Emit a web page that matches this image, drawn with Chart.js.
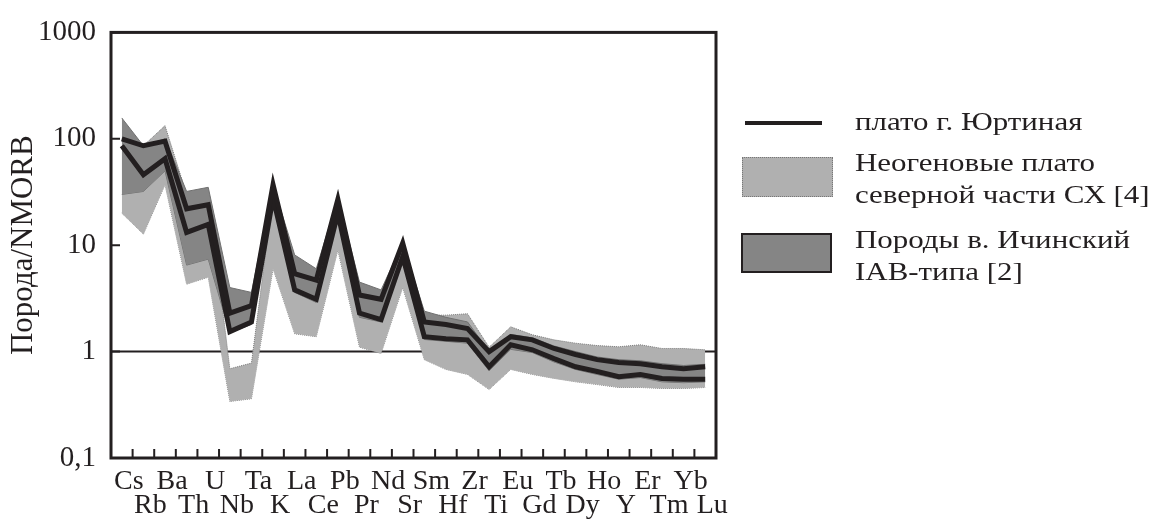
<!DOCTYPE html>
<html>
<head>
<meta charset="utf-8">
<script src="https://cdn.jsdelivr.net/npm/chart.js@4.4.1/dist/chart.umd.min.js"></script>
<style>
body{margin:0;background:#fff;width:1156px;height:520px;overflow:hidden;position:relative;font-family:"Liberation Serif",serif;color:#000;}
#wrap{position:absolute;left:0;top:0;width:1156px;height:520px;}
.lg{position:absolute;font-size:26px;line-height:32px;white-space:nowrap;transform:scaleX(1.19);transform-origin:0 0;color:#231f20;}
.box{position:absolute;box-sizing:border-box;}
</style>
</head>
<body>
<div id="wrap"><canvas id="spiderChart"></canvas></div>

<div class="box" style="left:745px;top:121px;width:77px;height:4px;background:#231f20;"></div>
<div class="lg" style="left:855px;top:106px;">плато г. Юртиная</div>
<div class="box" style="left:742px;top:157px;width:91px;height:40px;background:#b0b0b0;border:1px dotted #777;"></div>
<div class="lg" style="left:855px;top:147px;">Неогеновые плато<br>северной части СХ [4]</div>
<div class="box" style="left:741px;top:233px;width:91px;height:40px;background:#858585;border:2px solid #231f20;"></div>
<div class="lg" style="left:855px;top:224px;">Породы в. Ичинский<br>IAB-типа [2]</div>

<script>
const elements = ['Cs','Rb','Ba','Th','U','Nb','Ta','K','La','Ce','Pb','Pr','Nd','Sr','Sm','Hf','Zr','Ti','Eu','Gd','Tb','Dy','Ho','Y','Er','Tm','Yb','Lu'];

// плато г. Юртиная (два профиля)
const yurtUpper = [100,86,95,22,24,2.3,2.7,37,5.4,4.7,27,3.4,3.1,10.5,1.9,1.8,1.65,1.0,1.38,1.29,1.07,0.94,0.84,0.79,0.77,0.72,0.69,0.72];
const yurtLower = [86,46,65,13.2,15.7,1.54,1.9,28,3.8,3.1,20,2.3,2.0,7.8,1.38,1.32,1.29,0.72,1.16,1.04,0.86,0.72,0.65,0.58,0.61,0.56,0.55,0.55];

// Породы в. Ичинский IAB-типа
const darkUpper = [157,86,100,32,35,4.0,3.6,37,8.1,6.0,28,4.5,3.8,10.5,2.4,2.1,1.9,1.0,1.45,1.35,1.13,1.0,0.89,0.84,0.82,0.77,0.74,0.76];
const darkLower = [30,32,50,6.5,7.4,1.5,1.8,27,3.6,2.9,19,2.1,1.9,7.4,1.3,1.25,1.2,0.66,1.05,0.98,0.8,0.68,0.61,0.55,0.57,0.52,0.51,0.52];

// Неогеновые плато северной части СХ
const lightUpper = [100,86,133,30,33,0.69,0.78,30,6,5,22,3.5,3,9,2.2,2.2,2.27,1.1,1.71,1.44,1.29,1.2,1.14,1.11,1.16,1.07,1.07,1.04];
const lightLower = [20,12.7,37,4.3,5.0,0.34,0.36,6,1.47,1.38,9,1.1,0.96,4,0.84,0.68,0.61,0.44,0.68,0.61,0.56,0.52,0.49,0.46,0.46,0.45,0.45,0.46];

const yTicks = [0.1,1,10,100,1000];

Chart.defaults.font.family = '"Liberation Serif", "Times New Roman", serif';
Chart.defaults.color = '#231f20';

const frame = {
    id: 'frame',
    beforeDatasetsDraw(chart){
        const {ctx, chartArea:a, scales:{y}} = chart;
        const py = y.getPixelForValue(1);
        ctx.save();
        ctx.strokeStyle = '#231f20';
        ctx.lineWidth = 2;
        ctx.beginPath();
        ctx.moveTo(a.left, py);
        ctx.lineTo(a.right, py);
        ctx.stroke();
        ctx.restore();
    },
    afterDatasetsDraw(chart){
        const {ctx, chartArea:a, scales:{x,y}} = chart;
        ctx.save();
        ctx.strokeStyle = '#231f20';
        ctx.lineWidth = 3;
        ctx.strokeRect(a.left, a.top, a.right - a.left, a.bottom - a.top);
        ctx.lineWidth = 2;
        ctx.beginPath();
        for(let i=0;i<elements.length-1;i++){
            const px = (x.getPixelForValue(i) + x.getPixelForValue(i+1))/2;
            ctx.moveTo(px, a.bottom);
            ctx.lineTo(px, a.bottom - 9);
        }
        yTicks.forEach(v=>{
            const py = y.getPixelForValue(v);
            ctx.moveTo(a.left, py);
            ctx.lineTo(a.left + 9, py);
        });
        ctx.stroke();
        ctx.restore();
    }
};

const band = (data, fill, bg, border, dash, w) => ({
    data: data,
    fill: fill,
    backgroundColor: bg,
    borderColor: border,
    borderWidth: w,
    borderDash: dash,
    pointRadius: 0,
    tension: 0
});

const ctx = document.getElementById('spiderChart').getContext('2d');
new Chart(ctx, {
    type: 'line',
    data: {
        labels: elements,
        datasets: [
            band(yurtUpper, false, 'transparent', '#231f20', [], 5),
            band(yurtLower, false, 'transparent', '#231f20', [], 5),
            band(darkUpper, '+1', '#858585', '#707070', [], 1),
            band(darkLower, false, 'transparent', '#707070', [], 1),
            band(lightUpper, '+1', '#b0b0b0', '#7a7a7a', [1,1], 1),
            band(lightLower, false, 'transparent', '#7a7a7a', [1,1], 1)
        ]
    },
    options: {
        responsive: true,
        maintainAspectRatio: false,
        animation: false,
        layout: {padding: {top: 31, right: 440, bottom: 0, left: 0}},
        plugins: {legend: {display: false}, tooltip: {enabled: false}},
        scales: {
            x: {
                type: 'category',
                offset: true,
                grid: {display: false, drawTicks: false},
                border: {display: false},
                afterFit: s => { s.height = 62; },
                ticks: {
                    autoSkip: false,
                    maxRotation: 0,
                    minRotation: 0,
                    padding: 12,
                    labelOffset: 7,
                    font: {size: 28, lineHeight: 0.86},
                    callback: (v, i) => i % 2 === 0 ? elements[i] : ['', elements[i]]
                }
            },
            y: {
                type: 'logarithmic',
                min: 0.1,
                max: 1000,
                grid: {display: false, drawTicks: false},
                border: {display: false},
                afterFit: s => { s.width = 111; },
                afterBuildTicks: s => { s.ticks = yTicks.map(v => ({value: v})); },
                ticks: {
                    padding: 15,
                    font: {size: 29},
                    callback: v => v < 1 ? '0,1' : String(v)
                },
                title: {
                    display: true,
                    text: 'Порода/NMORB',
                    font: {size: 31, lineHeight: 1.55},
                    padding: {top: 0, bottom: 0}
                }
            }
        }
    },
    plugins: [frame]
});
</script>
</body>
</html>
